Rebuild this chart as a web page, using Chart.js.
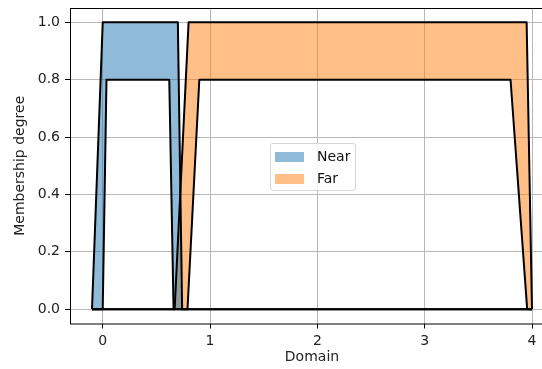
<!DOCTYPE html>
<html>
<head>
<meta charset="utf-8">
<script src="https://cdn.jsdelivr.net/npm/chart.js@4"></script>
<style>
  html, body { margin: 0; padding: 0; background: #fff; overflow: hidden; }
  #wrap { position: relative; width: 560px; height: 369px; }
  #legend {
    position: absolute; left: 270px; top: 143px; width: 84px; height: 46px;
    border: 1px solid #d6d6d6; border-radius: 3px; background: rgba(255,255,255,0.8);
    font-family: "DejaVu Sans", sans-serif; font-size: 14px; color: #111;
  }
  .row { position: absolute; left: 0; height: 16px; }
  .swatch { position: absolute; left: 4px; top: 3px; width: 29px; height: 10px; }
  .lbl { position: absolute; left: 46px; top: -1px; white-space: nowrap; }
</style>
</head>
<body>
<div id="wrap">
  <canvas id="chart" width="560" height="369"></canvas>
  <div id="legend">
    <div class="row" style="top:5px"><div class="swatch" style="background:rgba(31,119,180,0.5)"></div><span class="lbl">Near</span></div>
    <div class="row" style="top:27px"><div class="swatch" style="background:rgba(255,127,14,0.5)"></div><span class="lbl">Far</span></div>
  </div>
</div>
<script>
// tick labels
const xTicks = [0, 1, 2, 3, 4];
const yTicks = [0, 0.2, 0.4, 0.6, 0.8, 1.0];

// Near: upper / lower membership functions (breakpoints)
const nearUpperX = [-0.1, 0, 0.7, 0.74, 4.0];
const nearUpperY = [0, 1, 1, 0, 0];
const nearLowerX = [-0.1, 0, 0.035, 0.62, 0.66, 4.0];
const nearLowerY = [0, 0, 0.8, 0.8, 0, 0];

// Far: upper / lower membership functions (breakpoints)
const farUpperX = [-0.1, 0.67, 0.8, 3.95, 4.0];
const farUpperY = [0, 0, 1, 1, 0];
const farLowerX = [-0.1, 0.79, 0.9, 3.8, 3.955, 4.0];
const farLowerY = [0, 0, 0.8, 0.8, 0, 0];

function pts(xs, ys) {
  return xs.map((x, i) => ({x: x, y: ys[i]}));
}

function lineSet(label, data, fill, color) {
  return {
    label: label,
    data: data,
    borderColor: '#000',
    borderWidth: 2,
    borderJoinStyle: 'round',
    pointRadius: 0,
    fill: fill,
    backgroundColor: color
  };
}

// top/right frame like matplotlib spines
const frame = {
  id: 'frame',
  afterDraw(chart) {
    const a = chart.chartArea, c = chart.ctx;
    c.save();
    c.strokeStyle = '#000';
    c.lineWidth = 1;
    c.strokeRect(a.left + 0.5, a.top + 0.5, a.right - a.left, a.bottom - a.top);
    c.restore();
  }
};

const fontTick = {family: 'DejaVu Sans', size: 14};

new Chart(document.getElementById('chart'), {
  type: 'line',
  data: {
    datasets: [
      lineSet('Near upper', pts(nearUpperX, nearUpperY), '+1', 'rgba(31,119,180,0.5)'),
      lineSet('Near lower', pts(nearLowerX, nearLowerY), false, 'transparent'),
      lineSet('Far upper', pts(farUpperX, farUpperY), '+1', 'rgba(255,127,14,0.5)'),
      lineSet('Far lower', pts(farLowerX, farLowerY), false, 'transparent')
    ]
  },
  options: {
    responsive: false,
    animation: false,
    devicePixelRatio: 1,
    layout: { padding: {left: 0, top: 8, right: 6, bottom: 0} },
    plugins: {
      legend: { display: false },
      tooltip: { enabled: false },
      filler: { drawTime: 'beforeDatasetsDraw' }
    },
    scales: {
      x: {
        type: 'linear',
        min: -0.305,
        max: 4.205,
        afterBuildTicks: (s) => { s.ticks = xTicks.map(v => ({value: v})); },
        afterFit: (s) => { s.height = 45.5; s.paddingLeft = 0; s.paddingRight = 0; },
        ticks: { color: '#222', font: fontTick, padding: 4, maxRotation: 0,
                 callback: (v) => String(v) },
        grid: { color: '#b8b8b8', lineWidth: 1, tickColor: '#000', tickLength: 5 },
        border: { display: false },
        title: { display: true, text: 'Domain', color: '#222', font: fontTick,
                 padding: {top: 0, bottom: 3} }
      },
      y: {
        min: -0.05,
        max: 1.05,
        afterBuildTicks: (s) => { s.ticks = yTicks.map(v => ({value: v})); },
        afterFit: (s) => { s.width = 70; s.paddingTop = 0; s.paddingBottom = 0; },
        ticks: { color: '#222', font: fontTick, padding: 5,
                 callback: (v) => v.toFixed(1) },
        grid: { color: '#b8b8b8', lineWidth: 1, tickColor: '#000', tickLength: 5 },
        border: { display: false },
        title: { display: true, text: 'Membership degree', color: '#222', font: fontTick,
                 padding: {top: 12, bottom: 0} }
      }
    }
  },
  plugins: [frame]
});
</script>
</body>
</html>
